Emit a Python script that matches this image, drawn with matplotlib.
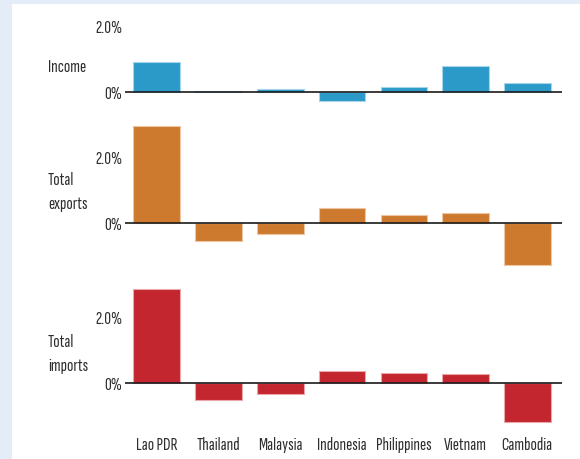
import matplotlib
matplotlib.use("Agg")
import matplotlib.pyplot as plt
from matplotlib.patches import Rectangle

countries = ["Lao PDR", "Thailand", "Malaysia", "Indonesia", "Philippines", "Vietnam", "Cambodia"]
income = [0.91, 0.04, 0.09, -0.27, 0.15, 0.80, 0.27]
exports = [2.93, -0.55, -0.33, 0.44, 0.24, 0.30, -1.26]
imports = [2.85, -0.51, -0.33, 0.36, 0.30, 0.27, -1.16]
row_labels = ["Income", "Total\nexports", "Total\nimports"]
tick_vals = [0, 2]
tick_labels = ["0%", "2.0%"]

plt.rcParams['font.family'] = ["Sofia Sans Extra Condensed", "Fira Sans Extra Condensed", "DejaVu Sans"]
plt.rcParams['font.weight'] = 500

W, H = 580, 459
fig = plt.figure(figsize=(W / 100, H / 100), dpi=100)
fig.patch.set_facecolor("#e3ecf7")
fig.add_artist(Rectangle((12 / W, 0), 1 - 12 / W, 1 - 4 / H, transform=fig.transFigure,
                         facecolor="white", edgecolor="none", zorder=0))

px_per = 33.0
x0, x1 = 125, 562
xlim = (-0.513, 6.56)
text_color = "#2e2e2e"
fs = 13.5

panels = [
    (income, "#2b9ac8", "#a6d4ea", 92.3, 2.15, -0.45, 67),
    (exports, "#cd7a2e", "#eec6a2", 223.0, 3.05, -1.45, 192),
    (imports, "#c3262f", "#eaa6aa", 383.3, 3.05, -1.35, 354),
]

axes = []
for vals, col, ecol, zero_px, ymax, ymin, lab_y in panels:
    top_px = zero_px - ymax * px_per
    bot_px = zero_px - ymin * px_per
    ax = fig.add_axes([x0 / W, 1 - bot_px / H, (x1 - x0) / W, (bot_px - top_px) / H])
    ax.set_facecolor("none")
    ax.bar(range(len(countries)), vals, width=0.755, color=col, edgecolor=ecol, linewidth=0.8, zorder=2)
    ax.axhline(0, color="#1a1a1a", linewidth=1.2, zorder=3)
    ax.set_xlim(*xlim)
    ax.set_ylim(ymin, ymax)
    for s in ax.spines.values():
        s.set_visible(False)
    ax.set_xticks([])
    ax.set_yticks(tick_vals)
    ax.set_yticklabels(tick_labels)
    ax.tick_params(axis="y", length=0, pad=2, labelsize=fs, labelcolor=text_color)
    axes.append(ax)

for (vals, col, ecol, zero_px, ymax, ymin, lab_y), lab in zip(panels, row_labels):
    fig.text(48 / W, 1 - lab_y / H, lab, ha="left", va="center", fontsize=fs,
             color=text_color, linespacing=1.6)

for i, c in enumerate(countries):
    xf = (156.7 + i * 61.75) / W
    fig.text(xf, 1 - 445 / H, c, ha="center", va="center", fontsize=fs, color=text_color)

fig.savefig("out.png", dpi=100, facecolor=fig.get_facecolor())
